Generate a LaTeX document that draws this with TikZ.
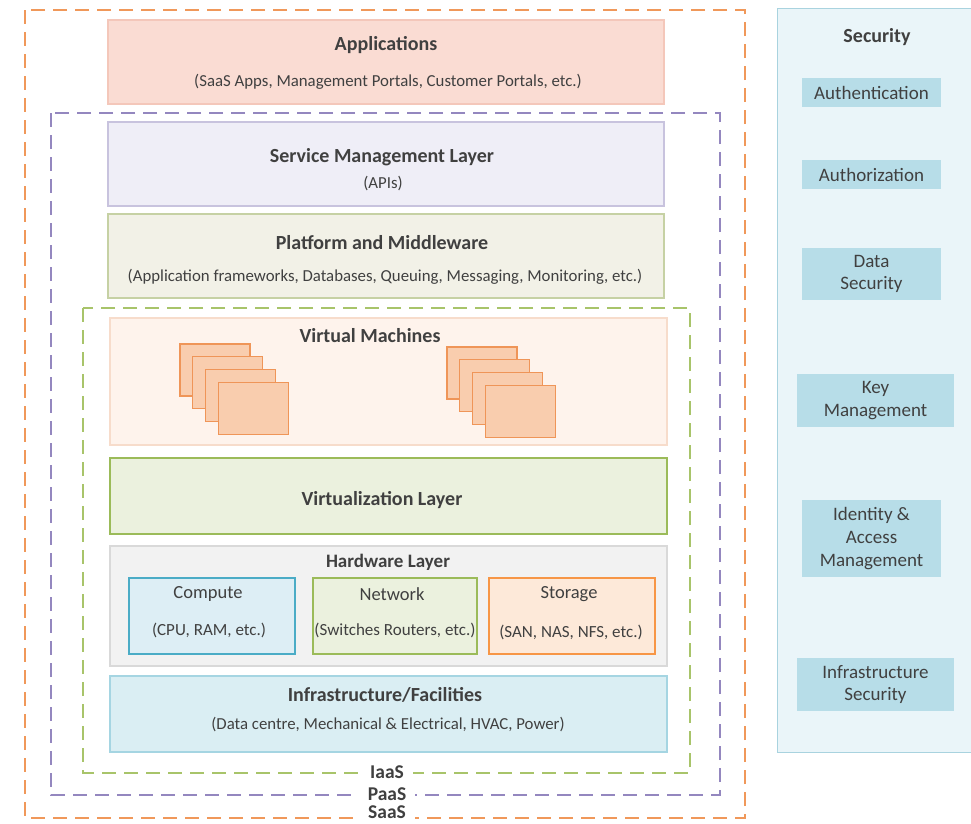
\documentclass[tikz,border=0pt]{standalone}
\usepackage{fontspec}
\setmainfont{Carlito}
\definecolor{txt}{HTML}{404040}
\definecolor{saasc}{HTML}{F0985A}
\definecolor{paasc}{HTML}{9487BF}
\definecolor{iaasc}{HTML}{A8C46A}
\definecolor{appf}{HTML}{FADCD3}\definecolor{appd}{HTML}{F4C7BA}
\definecolor{smf}{HTML}{EFEEF7}\definecolor{smd}{HTML}{C8C3DE}
\definecolor{pmf}{HTML}{F2F1E7}\definecolor{pmd}{HTML}{C6D1A4}
\definecolor{vmf}{HTML}{FEF3EC}\definecolor{vmd}{HTML}{F7DCCB}
\definecolor{vmbf}{HTML}{F9CDAE}\definecolor{vmbd}{HTML}{EF9558}
\definecolor{vlf}{HTML}{EBF1DE}\definecolor{vld}{HTML}{9BBB59}
\definecolor{hwf}{HTML}{F2F2F2}\definecolor{hwd}{HTML}{D9D9D9}
\definecolor{cpf}{HTML}{DDEEF5}\definecolor{cpd}{HTML}{4BACC6}
\definecolor{stf}{HTML}{FDE9D9}\definecolor{std}{HTML}{F79646}
\definecolor{inf}{HTML}{DAEEF3}\definecolor{ind}{HTML}{A5D5E2}
\definecolor{secf}{HTML}{EAF5F9}\definecolor{secd}{HTML}{A9D3DF}
\definecolor{itf}{HTML}{B7DDE8}
\begin{document}
\begin{tikzpicture}[x=1pt,y=-1pt,
  box/.style={draw=#1,line width=1.2pt,inner sep=0pt},
  ttl/.style={text=txt,font=\fontsize{20}{23}\selectfont\bfseries,inner sep=1pt},
  sub/.style={text=txt,font=\fontsize{16.8}{20}\selectfont,inner sep=1pt},
  hws/.style={text=txt,font=\fontsize{17}{20}\selectfont,inner sep=1pt},
  hwt/.style={text=txt,font=\fontsize{18.5}{22}\selectfont,inner sep=1pt},
  itm/.style={text=txt,font=\fontsize{19}{22.8}\selectfont,align=center,inner sep=1pt},
  frame/.style={draw=#1,line width=1.8pt,dash pattern=on 14pt off 8pt},
  lab/.style={fill=white,text=txt,font=\fontsize{19.5}{22}\selectfont\bfseries,inner xsep=9pt,inner ysep=0.5pt},
  vm/.style={fill=vmbf,draw=vmbd,line width=1.2pt,minimum width=70pt,minimum height=52pt,inner sep=0pt},
  secitem/.style={fill=itf,inner sep=0pt}]
\useasboundingbox (0,0) rectangle (971,823);
\clip (0,0) rectangle (971,823);
% security panel
\node[box=secd,fill=secf,minimum width=200pt,minimum height=744pt,anchor=north west] (secp) at (777,8) {};
\node[ttl,font=\fontsize{20}{23}\selectfont\bfseries] (sect) at (877,37) {Security};
\node[secitem,minimum width=139pt,minimum height=29pt] (s1) at (871.5,92.5) {};
\node[itm] (s1t) at (s1) {Authentication};
\node[secitem,minimum width=139pt,minimum height=29pt] (s2) at (871.5,174.5) {};
\node[itm] (s2t) at (s2) {Authorization};
\node[secitem,minimum width=139pt,minimum height=52pt] (s3) at (871.5,274) {};
\node[itm] (s3t) at (s3) {Data\\Security};
\node[secitem,minimum width=157pt,minimum height=53pt] (s4) at (875.5,400.5) {};
\node[itm] (s4t) at (s4) {Key\\Management};
\node[secitem,minimum width=139pt,minimum height=77pt] (s5) at (871.5,538.5) {};
\node[itm] (s5t) at (s5) {Identity \&\\Access\\Management};
\node[secitem,minimum width=157pt,minimum height=53pt] (s6) at (875.5,684.5) {};
\node[itm] (s6t) at (s6) {Infrastructure\\Security};
% frames
\draw[frame=saasc] (25,10) rectangle (745,818);
\draw[frame=paasc] (51,113) rectangle (720,795);
\draw[frame=iaasc] (83,308) rectangle (690,773);
\node[lab] (saas) at (387,812) {SaaS};
\node[lab] (paas) at (387,794) {PaaS};
\node[lab] (iaas) at (387,772) {IaaS};
% applications
\node[box=appd,fill=appf,minimum width=556pt,minimum height=84pt] (app) at (386,62) {};
\node[ttl] (appt) at (386,45) {Applications};
\node[sub] (apps) at (388,82) {(SaaS Apps, Management Portals, Customer Portals, etc.)};
% service management
\node[box=smd,fill=smf,minimum width=556pt,minimum height=84pt] (sm) at (386,164) {};
\node[ttl] (smt) at (382,157) {Service Management Layer};
\node[sub] (sms) at (383,184) {(APIs)};
% platform
\node[box=pmd,fill=pmf,minimum width=556pt,minimum height=84pt] (pm) at (386,256) {};
\node[ttl] (pmt) at (382,243) {Platform and Middleware};
\node[sub] (pms) at (385,277) {(Application frameworks, Databases, Queuing, Messaging, Monitoring, etc.)};
% virtual machines
\node[box=vmd,fill=vmf,minimum width=557pt,minimum height=127pt] (vms) at (388.5,381.5) {};
\node[ttl] (vmt) at (370,336) {Virtual Machines};
\foreach \i in {0,1,2,3}{
  \node[vm] (vl\i) at ({215+12.7*\i},{370+12.7*\i}) {};
  \node[vm] (vr\i) at ({482+12.7*\i},{373+12.7*\i}) {};
}
% virtualization
\node[box=vld,fill=vlf,line width=1.6pt,minimum width=557pt,minimum height=76pt] (vl) at (388.5,496) {};
\node[ttl] (vlt) at (382,500) {Virtualization Layer};
% hardware
\node[box=hwd,fill=hwf,minimum width=557pt,minimum height=120pt] (hw) at (388.5,606) {};
\node[ttl,font=\fontsize{19}{22}\selectfont\bfseries] (hwt) at (388,562) {Hardware Layer};
\node[box=cpd,fill=cpf,minimum width=166pt,minimum height=76pt] (cp) at (212,616) {};
\node[hwt] (cpt) at (208,594) {Compute};
\node[hws] (cps) at (209,630) {(CPU, RAM, etc.)};
\node[box=vld,fill=vlf,minimum width=164pt,minimum height=76pt] (nw) at (395,616) {};
\node[hwt] (nwt) at (392,594) {Network};
\node[hws] (nws) at (395,630) {(Switches Routers, etc.)};
\node[box=std,fill=stf,minimum width=166pt,minimum height=76pt] (st) at (572,616) {};
\node[hwt] (stt) at (569,594) {Storage};
\node[hws] (sts) at (571,632) {(SAN, NAS, NFS, etc.)};
% infrastructure
\node[box=ind,fill=inf,minimum width=557pt,minimum height=76pt] (inf) at (388.5,714) {};
\node[ttl] (inft) at (385,695) {Infrastructure/Facilities};
\node[sub] (infs) at (388,725) {(Data centre, Mechanical \& Electrical, HVAC, Power)};
\end{tikzpicture}
\end{document}
